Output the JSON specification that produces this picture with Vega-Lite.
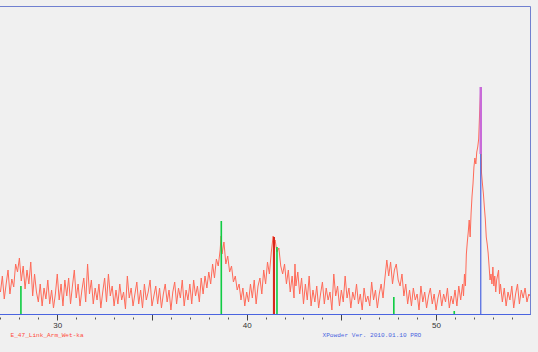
{
  "$schema": "https://vega.github.io/schema/vega-lite/v6.json",
  "width": 532,
  "height": 308,
  "autosize": {"type": "none"},
  "padding": {"left": -2, "top": 6, "right": 8, "bottom": 38},
  "background": "#f0f0f0",
  "config": {"view": {"stroke": "#7080d0", "strokeWidth": 1, "fill": "#f0f0f0"}},
  "datasets": {
    "pattern": [
      {"t": 27.0, "i": 22}, {"t": 27.1, "i": 38}, {"t": 27.2, "i": 15}, {"t": 27.3, "i": 30}, {"t": 27.4, "i": 44},
      {"t": 27.5, "i": 20}, {"t": 27.6, "i": 35}, {"t": 27.7, "i": 27}, {"t": 27.8, "i": 50}, {"t": 27.9, "i": 42},
      {"t": 28.0, "i": 56}, {"t": 28.1, "i": 33}, {"t": 28.2, "i": 48}, {"t": 28.3, "i": 25}, {"t": 28.4, "i": 44},
      {"t": 28.5, "i": 30}, {"t": 28.6, "i": 52}, {"t": 28.7, "i": 18}, {"t": 28.8, "i": 40}, {"t": 28.9, "i": 22},
      {"t": 29.0, "i": 12}, {"t": 29.1, "i": 30}, {"t": 29.2, "i": 8}, {"t": 29.3, "i": 26}, {"t": 29.4, "i": 15},
      {"t": 29.5, "i": 34}, {"t": 29.6, "i": 10}, {"t": 29.7, "i": 24}, {"t": 29.8, "i": 6}, {"t": 29.9, "i": 20},
      {"t": 30.0, "i": 40}, {"t": 30.1, "i": 14}, {"t": 30.2, "i": 30}, {"t": 30.3, "i": 8}, {"t": 30.4, "i": 34},
      {"t": 30.5, "i": 18}, {"t": 30.6, "i": 36}, {"t": 30.7, "i": 10}, {"t": 30.8, "i": 28}, {"t": 30.9, "i": 44},
      {"t": 31.0, "i": 16}, {"t": 31.1, "i": 30}, {"t": 31.2, "i": 8}, {"t": 31.3, "i": 24}, {"t": 31.4, "i": 36},
      {"t": 31.5, "i": 12}, {"t": 31.6, "i": 50}, {"t": 31.7, "i": 20}, {"t": 31.8, "i": 34}, {"t": 31.9, "i": 10},
      {"t": 32.0, "i": 26}, {"t": 32.1, "i": 14}, {"t": 32.2, "i": 30}, {"t": 32.3, "i": 6}, {"t": 32.4, "i": 22},
      {"t": 32.5, "i": 36}, {"t": 32.6, "i": 12}, {"t": 32.7, "i": 40}, {"t": 32.8, "i": 18}, {"t": 32.9, "i": 28},
      {"t": 33.0, "i": 8}, {"t": 33.1, "i": 24}, {"t": 33.2, "i": 10}, {"t": 33.3, "i": 30}, {"t": 33.4, "i": 14},
      {"t": 33.5, "i": 22}, {"t": 33.6, "i": 5}, {"t": 33.7, "i": 38}, {"t": 33.8, "i": 16}, {"t": 33.9, "i": 26},
      {"t": 34.0, "i": 8}, {"t": 34.1, "i": 20}, {"t": 34.2, "i": 32}, {"t": 34.3, "i": 10}, {"t": 34.4, "i": 24},
      {"t": 34.5, "i": 6}, {"t": 34.6, "i": 30}, {"t": 34.7, "i": 14}, {"t": 34.8, "i": 22}, {"t": 34.9, "i": 34},
      {"t": 35.0, "i": 8}, {"t": 35.1, "i": 18}, {"t": 35.2, "i": 28}, {"t": 35.3, "i": 10}, {"t": 35.4, "i": 26},
      {"t": 35.5, "i": 6}, {"t": 35.6, "i": 20}, {"t": 35.7, "i": 30}, {"t": 35.8, "i": 12}, {"t": 35.9, "i": 24},
      {"t": 36.0, "i": 4}, {"t": 36.1, "i": 22}, {"t": 36.2, "i": 32}, {"t": 36.3, "i": 10}, {"t": 36.4, "i": 26},
      {"t": 36.5, "i": 16}, {"t": 36.6, "i": 34}, {"t": 36.7, "i": 8}, {"t": 36.8, "i": 24}, {"t": 36.9, "i": 14},
      {"t": 37.0, "i": 30}, {"t": 37.1, "i": 10}, {"t": 37.2, "i": 34}, {"t": 37.3, "i": 18}, {"t": 37.4, "i": 28},
      {"t": 37.5, "i": 12}, {"t": 37.6, "i": 36}, {"t": 37.7, "i": 20}, {"t": 37.8, "i": 38}, {"t": 37.9, "i": 26},
      {"t": 38.0, "i": 42}, {"t": 38.1, "i": 30}, {"t": 38.2, "i": 50}, {"t": 38.3, "i": 36}, {"t": 38.4, "i": 55},
      {"t": 38.5, "i": 48}, {"t": 38.6, "i": 64}, {"t": 38.65, "i": 78}, {"t": 38.7, "i": 60}, {"t": 38.8, "i": 72},
      {"t": 38.9, "i": 50}, {"t": 39.0, "i": 58}, {"t": 39.1, "i": 42}, {"t": 39.2, "i": 48}, {"t": 39.3, "i": 32},
      {"t": 39.4, "i": 38}, {"t": 39.5, "i": 24}, {"t": 39.6, "i": 30}, {"t": 39.7, "i": 14}, {"t": 39.8, "i": 26},
      {"t": 39.9, "i": 8}, {"t": 40.0, "i": 22}, {"t": 40.1, "i": 12}, {"t": 40.2, "i": 30}, {"t": 40.3, "i": 16},
      {"t": 40.4, "i": 34}, {"t": 40.5, "i": 10}, {"t": 40.6, "i": 28}, {"t": 40.7, "i": 36}, {"t": 40.8, "i": 20},
      {"t": 40.9, "i": 44}, {"t": 41.0, "i": 30}, {"t": 41.1, "i": 52}, {"t": 41.2, "i": 40}, {"t": 41.3, "i": 62},
      {"t": 41.4, "i": 78}, {"t": 41.45, "i": 70}, {"t": 41.5, "i": 74}, {"t": 41.6, "i": 62}, {"t": 41.7, "i": 66},
      {"t": 41.8, "i": 48}, {"t": 41.9, "i": 40}, {"t": 42.0, "i": 50}, {"t": 42.1, "i": 30}, {"t": 42.2, "i": 44},
      {"t": 42.3, "i": 22}, {"t": 42.4, "i": 38}, {"t": 42.5, "i": 16}, {"t": 42.55, "i": 50}, {"t": 42.6, "i": 28},
      {"t": 42.7, "i": 42}, {"t": 42.8, "i": 20}, {"t": 42.9, "i": 36}, {"t": 43.0, "i": 10}, {"t": 43.1, "i": 30},
      {"t": 43.2, "i": 14}, {"t": 43.3, "i": 38}, {"t": 43.4, "i": 8}, {"t": 43.5, "i": 24}, {"t": 43.6, "i": 12},
      {"t": 43.7, "i": 28}, {"t": 43.8, "i": 6}, {"t": 43.9, "i": 20}, {"t": 44.0, "i": 32}, {"t": 44.1, "i": 10},
      {"t": 44.2, "i": 26}, {"t": 44.3, "i": 14}, {"t": 44.4, "i": 22}, {"t": 44.5, "i": 4}, {"t": 44.6, "i": 40},
      {"t": 44.7, "i": 18}, {"t": 44.8, "i": 28}, {"t": 44.9, "i": 8}, {"t": 45.0, "i": 24}, {"t": 45.1, "i": 12},
      {"t": 45.2, "i": 38}, {"t": 45.3, "i": 16}, {"t": 45.4, "i": 26}, {"t": 45.5, "i": 6}, {"t": 45.6, "i": 22},
      {"t": 45.7, "i": 14}, {"t": 45.8, "i": 30}, {"t": 45.9, "i": 10}, {"t": 46.0, "i": 20}, {"t": 46.1, "i": 4},
      {"t": 46.2, "i": 26}, {"t": 46.3, "i": 12}, {"t": 46.4, "i": 18}, {"t": 46.5, "i": 8}, {"t": 46.6, "i": 32},
      {"t": 46.7, "i": 14}, {"t": 46.8, "i": 24}, {"t": 46.9, "i": 6}, {"t": 47.0, "i": 20}, {"t": 47.1, "i": 30},
      {"t": 47.2, "i": 16}, {"t": 47.3, "i": 36}, {"t": 47.4, "i": 54}, {"t": 47.5, "i": 38}, {"t": 47.6, "i": 52},
      {"t": 47.7, "i": 30}, {"t": 47.8, "i": 44}, {"t": 47.9, "i": 50}, {"t": 48.0, "i": 34}, {"t": 48.1, "i": 28},
      {"t": 48.2, "i": 40}, {"t": 48.3, "i": 18}, {"t": 48.4, "i": 30}, {"t": 48.5, "i": 10}, {"t": 48.6, "i": 24},
      {"t": 48.7, "i": 8}, {"t": 48.8, "i": 26}, {"t": 48.9, "i": 14}, {"t": 49.0, "i": 20}, {"t": 49.1, "i": 4},
      {"t": 49.2, "i": 28}, {"t": 49.3, "i": 12}, {"t": 49.4, "i": 22}, {"t": 49.5, "i": 6}, {"t": 49.6, "i": 18},
      {"t": 49.7, "i": 26}, {"t": 49.8, "i": 10}, {"t": 49.9, "i": 20}, {"t": 50.0, "i": 4}, {"t": 50.1, "i": 16},
      {"t": 50.2, "i": 24}, {"t": 50.3, "i": 8}, {"t": 50.4, "i": 20}, {"t": 50.5, "i": 12}, {"t": 50.6, "i": 26},
      {"t": 50.7, "i": 6}, {"t": 50.8, "i": 18}, {"t": 50.9, "i": 10}, {"t": 51.0, "i": 24}, {"t": 51.1, "i": 8},
      {"t": 51.2, "i": 28}, {"t": 51.3, "i": 14}, {"t": 51.4, "i": 30}, {"t": 51.45, "i": 18}, {"t": 51.5, "i": 40},
      {"t": 51.55, "i": 28}, {"t": 51.6, "i": 60}, {"t": 51.65, "i": 72}, {"t": 51.7, "i": 82}, {"t": 51.75, "i": 94},
      {"t": 51.8, "i": 77}, {"t": 51.85, "i": 101}, {"t": 51.9, "i": 118}, {"t": 51.95, "i": 130}, {"t": 52.0, "i": 147},
      {"t": 52.05, "i": 156}, {"t": 52.1, "i": 150}, {"t": 52.15, "i": 162}, {"t": 52.2, "i": 167}, {"t": 52.25, "i": 175},
      {"t": 52.3, "i": 201}, {"t": 52.36, "i": 227}, {"t": 52.4, "i": 141}, {"t": 52.45, "i": 130}, {"t": 52.5, "i": 120},
      {"t": 52.55, "i": 107}, {"t": 52.6, "i": 95}, {"t": 52.65, "i": 77}, {"t": 52.7, "i": 70}, {"t": 52.75, "i": 61},
      {"t": 52.8, "i": 48}, {"t": 52.85, "i": 34}, {"t": 52.9, "i": 40}, {"t": 52.95, "i": 30}, {"t": 53.0, "i": 47},
      {"t": 53.05, "i": 28}, {"t": 53.1, "i": 38}, {"t": 53.15, "i": 22}, {"t": 53.2, "i": 34}, {"t": 53.3, "i": 44},
      {"t": 53.35, "i": 20}, {"t": 53.4, "i": 30}, {"t": 53.5, "i": 12}, {"t": 53.6, "i": 26}, {"t": 53.7, "i": 8},
      {"t": 53.8, "i": 22}, {"t": 53.9, "i": 14}, {"t": 54.0, "i": 28}, {"t": 54.1, "i": 6}, {"t": 54.2, "i": 20},
      {"t": 54.3, "i": 30}, {"t": 54.4, "i": 10}, {"t": 54.5, "i": 24}, {"t": 54.6, "i": 16}, {"t": 54.7, "i": 26},
      {"t": 54.8, "i": 12}, {"t": 54.9, "i": 20}, {"t": 54.96, "i": 18}
    ],
    "sticks": [
      {"pos": 52.36, "lo": 0, "hi": 227, "phase": "blue"},
      {"pos": 28.08, "lo": 0, "hi": 28, "phase": "green"},
      {"pos": 38.66, "lo": 0, "hi": 93, "phase": "green"},
      {"pos": 41.44, "lo": 0, "hi": 77, "phase": "red"},
      {"pos": 41.6, "lo": 0, "hi": 67, "phase": "green"},
      {"pos": 47.77, "lo": 0, "hi": 17, "phase": "green"},
      {"pos": 50.96, "lo": 0, "hi": 3, "phase": "green"},
      {"pos": 52.36, "lo": 160, "hi": 227, "phase": "magenta"}
    ]
  },
  "resolve": {"axis": {"x": "independent"}},
  "layer": [
    {
      "data": {"name": "pattern"},
      "mark": {"type": "line", "color": "#ff6a58", "strokeWidth": 1, "clip": true},
      "encoding": {
        "x": {"field": "t", "type": "quantitative", "scale": {"domain": [26.87, 54.96], "nice": false, "zero": false},
          "axis": {"orient": "bottom", "values": [30, 35, 40, 45, 50], "labelExpr": "datum.value % 10 == 0 ? datum.label : ''", "grid": false,
            "domainColor": "#4a64e0", "tickColor": "#444444", "tickSize": 6, "labelFontSize": 8, "labelFont": "Liberation Sans",
            "labelColor": "#333333", "labelPadding": 1,
            "title": "E_47_Link_Arm_Wet-ka", "titleColor": "#ff4a3a", "titleFont": "Liberation Mono", "titleFontSize": 6.1,
            "titleFontWeight": "normal", "titleAnchor": "start", "titleAlign": "left", "titleBaseline": "middle", "titleX": 12, "titleY": 20}},
        "y": {"field": "i", "type": "quantitative", "scale": {"domain": [0, 308], "nice": false}, "axis": null}
      }
    },
    {
      "data": {"name": "sticks"},
      "mark": {"type": "rule", "clip": true},
      "encoding": {
        "x": {"field": "pos", "type": "quantitative",
          "axis": {"orient": "bottom", "values": [27,28,29,31,32,33,34,36,37,38,39,41,42,43,44,46,47,48,49,51,52,53,54], "labels": false, "grid": false,
            "domainColor": "#4a64e0", "tickColor": "#555555", "tickSize": 5, "tickWidth": 1, "tickDash": [0, 3, 2, 10],
            "title": "XPowder Ver. 2010.01.10 PRO", "titleColor": "#4a64e0", "titleFont": "Liberation Mono", "titleFontSize": 6.1,
            "titleFontWeight": "normal", "titleAnchor": "start", "titleAlign": "left", "titleBaseline": "middle", "titleX": 324, "titleY": 20}},
        "y": {"field": "lo", "type": "quantitative", "axis": null},
        "y2": {"field": "hi"},
        "color": {"field": "phase", "type": "nominal", "legend": null,
          "scale": {"domain": ["blue", "green", "red", "magenta"], "range": ["#4a64e0", "#11cc44", "#d8281c", "#c86ad8"]}},
        "size": {"field": "phase", "type": "nominal", "legend": null,
          "scale": {"domain": ["blue", "green", "red", "magenta"], "range": [1.2, 2.5, 2, 3]}}
      }
    }
  ]
}
